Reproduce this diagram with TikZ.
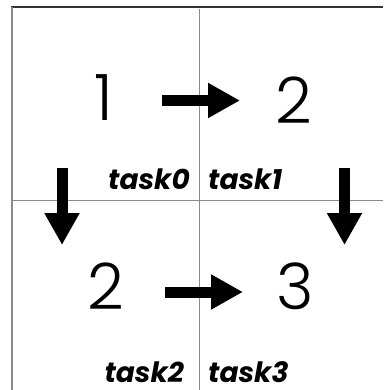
\documentclass[tikz,border=0pt]{standalone}
\usepackage{fontspec}
\usetikzlibrary{arrows.meta}
\newfontfamily\digitfont{Poppins Light}
\newfontfamily\labelfont{Poppins}
\definecolor{frameedge}{HTML}{333333}
\definecolor{gridline}{HTML}{8A8A8A}
\tikzset{
  digit/.style={font=\digitfont\fontsize{64}{64}\selectfont, inner sep=0pt},
  tasklabel/.style={font=\labelfont\bfseries\itshape\fontsize{28}{28}\selectfont, inner sep=0pt, text depth=0pt},
  flow/.style={line width=11pt, -{Triangle[length=32pt,width=33pt]}},
  grid/.style={draw=gridline, line width=1pt},
}
\begin{document}
\begin{tikzpicture}[x=1pt,y=-1pt]
  \useasboundingbox (0,0) rectangle (383,390);
  % frame and quadrant grid
  \draw[frameedge, line width=1.8pt] (11,7) -- (383,7);
  \draw[gridline, line width=2pt] (11.5,7) -- (11.5,390);
  \draw[grid] (199.5,9) -- (199.5,390);
  \draw[grid] (12,200) -- (383,200);
  % step numbers
  \node[digit] (n1) at (104,98) {1};
  \node[digit] (n2) at (294,100) {2};
  \node[digit] (n3) at (106,286) {2};
  \node[digit] (n4) at (295,286) {3};
  % task labels
  \node[tasklabel, anchor=base east] (t0) at (190,189) {task0};
  \node[tasklabel, anchor=base west] (t1) at (208,189) {task1};
  \node[tasklabel, anchor=base east] (t2) at (184,382) {task2};
  \node[tasklabel, anchor=base west] (t3) at (208,382) {task3};
  % arrow ends
  \coordinate (a0s) at (162,100.5);
  \coordinate (a0e) at (240,100.5);
  \coordinate (a1s) at (165,292);
  \coordinate (a1e) at (243,292);
  \coordinate (d0s) at (62,168);
  \coordinate (d0e) at (62,245);
  \coordinate (d1s) at (344.5,168);
  \coordinate (d1e) at (344.5,245);
  % arrows
  \draw[flow] (a0s) -- (a0e);
  \draw[flow] (a1s) -- (a1e);
  \draw[flow] (d0s) -- (d0e);
  \draw[flow] (d1s) -- (d1e);
\end{tikzpicture}
\end{document}
